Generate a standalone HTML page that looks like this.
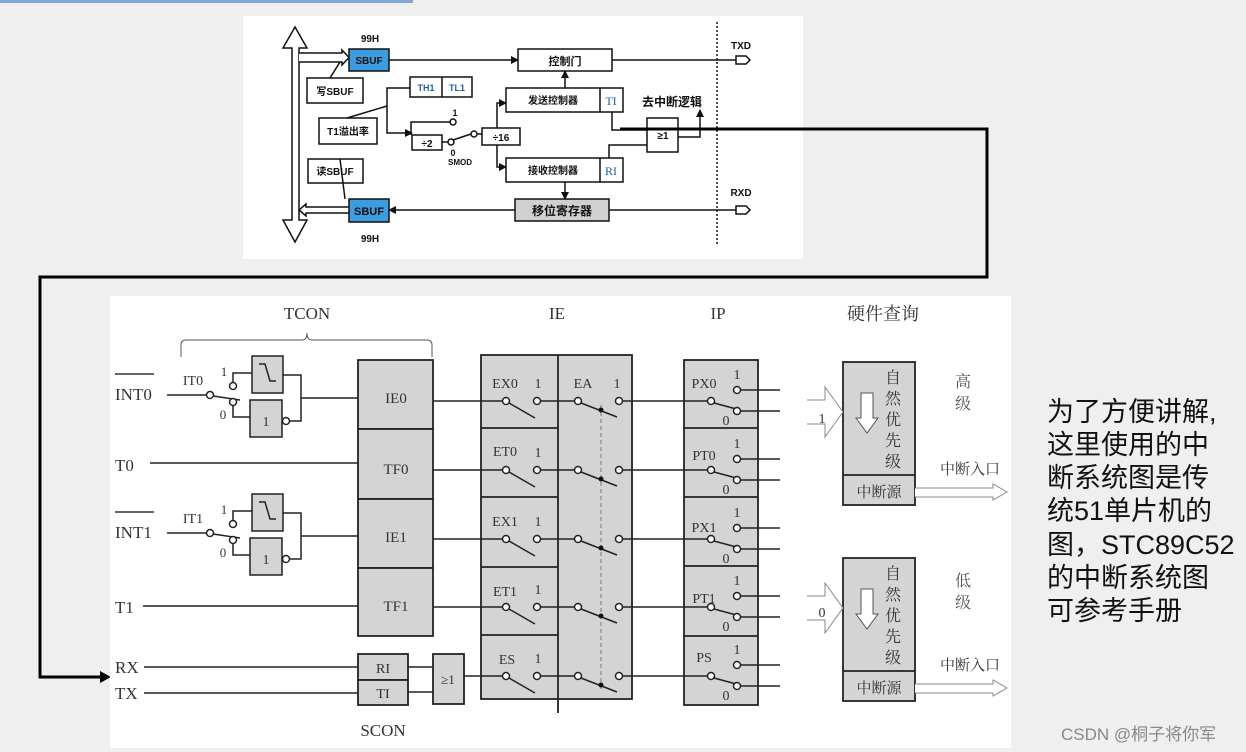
<!DOCTYPE html>
<html><head><meta charset="utf-8"><style>
html,body{margin:0;padding:0;background:#efefef;}
svg{display:block;}
.t{font-family:"Liberation Sans","Noto Sans CJK SC",sans-serif;font-weight:bold;fill:#111;}
.s{font-family:"Liberation Serif","Noto Serif CJK SC",serif;fill:#333;}
</style></head><body>
<svg width="1246" height="752" viewBox="0 0 1246 752" xmlns="http://www.w3.org/2000/svg">
<defs>
<marker id="a" markerWidth="8" markerHeight="8" refX="7" refY="4" orient="auto" markerUnits="userSpaceOnUse"><path d="M0,0 L8,4 L0,8 z" fill="#111"/></marker>
</defs>
<rect x="0" y="0" width="413" height="3" fill="#7fa8d4"/>
<!-- top panel -->
<rect x="243" y="16" width="560" height="243" fill="#fff"/>
<g stroke="#111" stroke-width="1.5" fill="none">
<path d="M292,48 L283,48 L295,27 L307,48 L299,48 L299,220 L307,220 L295,242 L283,220 L292,220 Z" fill="#fff"/>
<path d="M299,53 L342,53 L342,50 L349,57.5 L342,65 L342,62 L299,62" fill="#fff"/>
<path d="M349,207 L306,207 L306,204 L299,210 L306,216 L306,213 L349,213" fill="#fff"/>
</g>
<rect x="349" y="49" width="40" height="22" fill="#3b9de0" stroke="#111" stroke-width="1.5"/>
<rect x="349" y="199" width="40" height="23" fill="#3b9de0" stroke="#111" stroke-width="1.5"/>
<text class="t" x="369" y="64" font-size="10" text-anchor="middle">SBUF</text>
<text class="t" x="369" y="215" font-size="11" text-anchor="middle">SBUF</text>
<text class="t" x="370" y="42" font-size="10" text-anchor="middle">99H</text>
<text class="t" x="370" y="242" font-size="10" text-anchor="middle">99H</text>
<g stroke="#111" stroke-width="1.5" fill="#fff">
<rect x="307" y="78" width="56" height="25"/>
<rect x="319" y="118" width="58" height="26"/>
<rect x="308" y="159" width="55" height="24"/>
<rect x="518" y="49" width="94" height="22"/>
<rect x="410" y="77" width="62" height="20"/>
<rect x="506" y="88" width="117" height="24"/>
<rect x="506" y="158" width="117" height="24"/>
<rect x="412" y="135" width="30" height="15"/>
<rect x="482" y="128" width="38" height="17"/>
<rect x="647" y="118" width="31" height="34"/>
<rect x="515" y="199" width="94" height="22" fill="#d0d0d0"/>
</g>
<g stroke="#111" stroke-width="1.5" fill="none">
<line x1="442" y1="77" x2="442" y2="97"/>
<line x1="600" y1="88" x2="600" y2="112"/>
<line x1="600" y1="158" x2="600" y2="182"/>
<path d="M330,78 L340,62"/>
<path d="M340,159 L345,199"/>
<line x1="389" y1="60" x2="518" y2="60" marker-end="url(#a)"/>
<line x1="612" y1="60" x2="736" y2="60"/>
<path d="M736,56 L746,56 L750,60 L746,64 L736,64 Z" fill="#fff"/>
<path d="M736,206 L746,206 L750,210 L746,214 L736,214 Z" fill="#fff"/>
<line x1="736" y1="210" x2="609" y2="210"/>
<line x1="515" y1="210" x2="389" y2="210" marker-end="url(#a)"/>
<line x1="565" y1="88" x2="565" y2="71" marker-end="url(#a)"/>
<line x1="565" y1="182" x2="565" y2="199" marker-end="url(#a)"/>
<path d="M410,88 L387,88 L387,133 L412,133" marker-end="url(#a)"/>
<path d="M347,118 L387,106"/>
<path d="M411,135 L411,122 L450,122"/>
<circle cx="453" cy="122" r="3" fill="#fff"/>
<line x1="442" y1="142" x2="448" y2="142"/>
<circle cx="451" cy="142" r="3" fill="#fff"/>
<line x1="453" y1="140" x2="471" y2="134"/>
<circle cx="474" cy="134" r="3" fill="#fff"/>
<line x1="477" y1="134" x2="482" y2="134"/>
<path d="M497,128 L497,103 L506,103" marker-end="url(#a)"/>
<path d="M497,145 L497,167 L506,167" marker-end="url(#a)"/>
<path d="M612,112 L612,130 L647,130"/>
<path d="M609,158 L609,145 L647,145"/>
<path d="M678,137 L700,137 L700,110" marker-end="url(#a)"/>
<line x1="717" y1="22" x2="717" y2="244" stroke-dasharray="2,2"/>
</g>
<text class="t" x="335" y="95" font-size="10" text-anchor="middle">写SBUF</text>
<text class="t" x="348" y="135" font-size="10" text-anchor="middle">T1溢出率</text>
<text class="t" x="335" y="175" font-size="10" text-anchor="middle">读SBUF</text>
<text class="t" x="565" y="65" font-size="11" text-anchor="middle">控制门</text>
<text class="t" x="426" y="91" font-size="9" style="fill:#1a5fb4" text-anchor="middle">TH1</text>
<text class="t" x="457" y="91" font-size="9" style="fill:#1a5fb4" text-anchor="middle">TL1</text>
<text class="t" x="553" y="104" font-size="10" text-anchor="middle">发送控制器</text>
<text class="t" x="553" y="174" font-size="10" text-anchor="middle">接收控制器</text>
<text class="s" x="611" y="105" font-size="12" style="fill:#1a5fb4" text-anchor="middle">TI</text>
<text class="s" x="611" y="175" font-size="12" style="fill:#1a5fb4" text-anchor="middle">RI</text>
<text class="t" x="562" y="215" font-size="12" text-anchor="middle">移位寄存器</text>
<text class="t" x="427" y="147" font-size="10" text-anchor="middle">÷2</text>
<text class="t" x="501" y="141" font-size="10" text-anchor="middle">÷16</text>
<text class="t" x="663" y="139" font-size="10" text-anchor="middle">≥1</text>
<text class="t" x="455" y="116" font-size="9" text-anchor="middle">1</text>
<text class="t" x="453" y="156" font-size="9" text-anchor="middle">0</text>
<text class="t" x="460" y="165" font-size="8" text-anchor="middle">SMOD</text>
<text class="t" x="642" y="106" font-size="12">去中断逻辑</text>
<text class="t" x="741" y="49" font-size="10" text-anchor="middle">TXD</text>
<text class="t" x="741" y="196" font-size="10" text-anchor="middle">RXD</text>
<path d="M620,129 L987,129 L987,277 L40,277 L40,677 L100,677" stroke="#000" stroke-width="3" fill="none"/>
<path d="M100,671 L111,677 L100,683 Z" fill="#000"/>

<rect x="110" y="296" width="901" height="452" fill="#fff"/>
<text class="s" x="307" y="319" font-size="17" text-anchor="middle">TCON</text>
<text class="s" x="557" y="319" font-size="17" text-anchor="middle">IE</text>
<text class="s" x="718" y="319" font-size="17" text-anchor="middle">IP</text>
<text class="s" x="883" y="320" font-size="18" text-anchor="middle">硬件查询</text>
<path d="M181,357 L181,345 Q181,340 186,340 L302,340 Q307,340 307,333 Q307,340 312,340 L427,340 Q432,340 432,345 L432,357" stroke="#555" stroke-width="1" fill="none"/>
<g font-size="17" class="s">
<text x="115" y="400">INT0</text><line x1="115" y1="374" x2="154" y2="374" stroke="#333" stroke-width="1.5"/>
<text x="115" y="471">T0</text>
<text x="115" y="538">INT1</text><line x1="115" y1="512" x2="154" y2="512" stroke="#333" stroke-width="1.5"/>
<text x="115" y="613">T1</text>
<text x="115" y="673">RX</text>
<text x="115" y="699">TX</text>
</g>
<g stroke="#222" stroke-width="1.5" fill="none">
<line x1="150" y1="463" x2="358" y2="463"/>
<line x1="143" y1="606" x2="358" y2="606"/>
<line x1="144" y1="667" x2="358" y2="667"/>
<line x1="144" y1="693" x2="358" y2="693"/>
</g>
<g id="sw0">
<g stroke="#222" stroke-width="1.5" fill="none">
<line x1="167" y1="395" x2="207" y2="395"/>
<line x1="213" y1="396" x2="240" y2="400"/>
<path d="M233,383 L233,373 L252,373"/>
<path d="M233,405 L233,417 L250,417"/>
<path d="M283,375 L301,375 L301,421 L289,421"/>
<line x1="301" y1="398" x2="358" y2="398"/>
<circle cx="210" cy="395" r="3.5" fill="#fff"/>
<circle cx="233" cy="386" r="3.5" fill="#fff"/>
<circle cx="233" cy="402" r="3.5" fill="#fff"/>
<rect x="252" y="356" width="31" height="37" fill="#d4d4d4"/>
<rect x="250" y="400" width="32" height="37" fill="#d4d4d4"/>
<circle cx="286" cy="421" r="3.5" fill="#fff"/>
<path d="M259,364 L265,364 L270,381 L276,381"/>
</g>
<text class="s" x="266" y="426" font-size="14" text-anchor="middle">1</text>
<text class="s" x="224" y="376" font-size="13" text-anchor="middle">1</text>
<text class="s" x="223" y="419" font-size="13" text-anchor="middle">0</text>
</g>
<text class="s" x="193" y="385" font-size="14" text-anchor="middle">IT0</text>
<use href="#sw0" transform="translate(0,138)"/>
<text class="s" x="193" y="523" font-size="14" text-anchor="middle">IT1</text>
<g stroke="#222" stroke-width="1.8" fill="#d4d4d4">
<rect x="358" y="360" width="75" height="69"/>
<rect x="358" y="429" width="75" height="70"/>
<rect x="358" y="499" width="75" height="69"/>
<rect x="358" y="568" width="75" height="68"/>
<rect x="358" y="654" width="50" height="26"/>
<rect x="358" y="680" width="50" height="25"/>
<rect x="433" y="654" width="31" height="50"/>
</g>
<g class="s" font-size="15" text-anchor="middle">
<text x="396" y="403">IE0</text><text x="396" y="474">TF0</text>
<text x="396" y="542">IE1</text><text x="396" y="611">TF1</text>
<text x="383" y="673" font-size="14">RI</text><text x="383" y="698" font-size="14">TI</text>
<text x="448" y="684" font-size="13">≥1</text>
<text x="383" y="736" font-size="17">SCON</text>
</g>
<g stroke="#222" stroke-width="1.5">
<line x1="408" y1="667" x2="433" y2="667"/><line x1="408" y1="692" x2="433" y2="692"/>
<line x1="433" y1="401" x2="481" y2="401"/><line x1="433" y1="470" x2="481" y2="470"/>
<line x1="433" y1="539" x2="481" y2="539"/><line x1="433" y1="607" x2="481" y2="607"/>
<line x1="464" y1="676" x2="481" y2="676"/>
</g>
<g stroke="#222" stroke-width="1.8" fill="#d4d4d4">
<rect x="481" y="355" width="151" height="344"/>
<line x1="481" y1="428" x2="558" y2="428"/><line x1="481" y1="497" x2="558" y2="497"/>
<line x1="481" y1="567" x2="558" y2="567"/><line x1="481" y1="635" x2="558" y2="635"/>
<line x1="558" y1="355" x2="558" y2="713"/>
</g>
<line x1="601" y1="405" x2="601" y2="690" stroke="#777" stroke-width="1" stroke-dasharray="4,3"/>
<g stroke="#222" stroke-width="1.8" fill="#d4d4d4">
<rect x="684" y="360" width="74" height="345"/>
<line x1="684" y1="428" x2="758" y2="428"/><line x1="684" y1="497" x2="758" y2="497"/>
<line x1="684" y1="566" x2="758" y2="566"/><line x1="684" y1="636" x2="758" y2="636"/>
</g>
<g id="row">
<g stroke="#222" stroke-width="1.5" fill="none">
<line x1="481" y1="401" x2="503" y2="401"/>
<line x1="509" y1="403" x2="535" y2="418"/>
<line x1="540" y1="401" x2="575" y2="401"/>
<line x1="581" y1="403" x2="617" y2="417"/>
<line x1="622" y1="401" x2="707" y2="401"/>
<line x1="714" y1="403" x2="740" y2="410"/>
<line x1="741" y1="390" x2="780" y2="390"/>
<line x1="741" y1="411" x2="780" y2="411"/>
<circle cx="506" cy="401" r="3.5" fill="#fff"/>
<circle cx="537" cy="401" r="3.5" fill="#fff"/>
<circle cx="578" cy="401" r="3.5" fill="#fff"/>
<circle cx="619" cy="401" r="3.5" fill="#fff"/>
<circle cx="711" cy="401" r="3.5" fill="#fff"/>
<circle cx="737" cy="390" r="3.5" fill="#fff"/>
<circle cx="737" cy="411" r="3.5" fill="#fff"/>
</g>
<circle cx="601" cy="410" r="2.5" fill="#111"/>
<text class="s" x="538" y="388" font-size="14" text-anchor="middle">1</text>
<text class="s" x="737" y="379" font-size="14" text-anchor="middle">1</text>
<text class="s" x="726" y="425" font-size="14" text-anchor="middle">0</text>
</g>
<use href="#row" transform="translate(0,69)"/>
<use href="#row" transform="translate(0,138)"/>
<use href="#row" transform="translate(0,206)"/>
<use href="#row" transform="translate(0,275)"/>
<g class="s" font-size="14" text-anchor="middle">
<text x="505" y="388">EX0</text><text x="505" y="456">ET0</text><text x="505" y="526">EX1</text>
<text x="505" y="596">ET1</text><text x="507" y="664">ES</text>
<text x="583" y="388">EA</text><text x="617" y="388">1</text>
<text x="704" y="388">PX0</text><text x="704" y="460">PT0</text><text x="704" y="532">PX1</text>
<text x="704" y="603">PT1</text><text x="704" y="662">PS</text>
</g>
<g id="pb">
<g stroke="#222" stroke-width="1.8" fill="#d4d4d4">
<rect x="843" y="362" width="72" height="143"/>
<line x1="843" y1="475" x2="915" y2="475"/>
</g>
<path d="M807,400 L825,400 L825,387 L843,412 L825,437 L825,424 L807,424" stroke="#888" stroke-width="1" fill="#fff"/>
<path d="M861,393 L873,393 L873,418 L878,418 L867,433 L856,418 L861,418 Z" stroke="#555" stroke-width="1" fill="#fff"/>
<path d="M915,488 L993,488 L993,484 L1007,492 L993,500 L993,497 L915,497" stroke="#888" stroke-width="1" fill="#fff"/>
<g class="s" font-size="16" text-anchor="middle">
<text x="893" y="383">自</text><text x="893" y="404">然</text><text x="893" y="425">优</text><text x="893" y="446">先</text><text x="893" y="467">级</text>
<text x="879" y="497" font-size="15">中断源</text>
<text x="970" y="474" font-size="15">中断入口</text>
</g>
</g>
<use href="#pb" transform="translate(0,196)"/>
<g class="s" font-size="14" text-anchor="middle">
<text x="822" y="423">1</text><text x="822" y="617">0</text>
</g>
<g class="s" font-size="16" text-anchor="middle" style="fill:#555">
<text x="963" y="387">高</text><text x="963" y="409">级</text>
<text x="963" y="586">低</text><text x="963" y="608">级</text>
</g>
<g font-family="'Liberation Sans','Noto Sans CJK SC',sans-serif" font-size="27" fill="#111">
<text x="1047" y="421">为了方便讲解,</text>
<text x="1047" y="454">这里使用的中</text>
<text x="1047" y="487">断系统图是传</text>
<text x="1047" y="520">统51单片机的</text>
<text x="1047" y="554">图，STC89C52</text>
<text x="1047" y="587">的中断系统图</text>
<text x="1047" y="620">可参考手册</text>
</g>
<text x="1061" y="740" font-family="'Liberation Sans','Noto Sans CJK SC',sans-serif" font-size="17" fill="#888">CSDN @桐子将你军</text>
</svg>
</body></html>
